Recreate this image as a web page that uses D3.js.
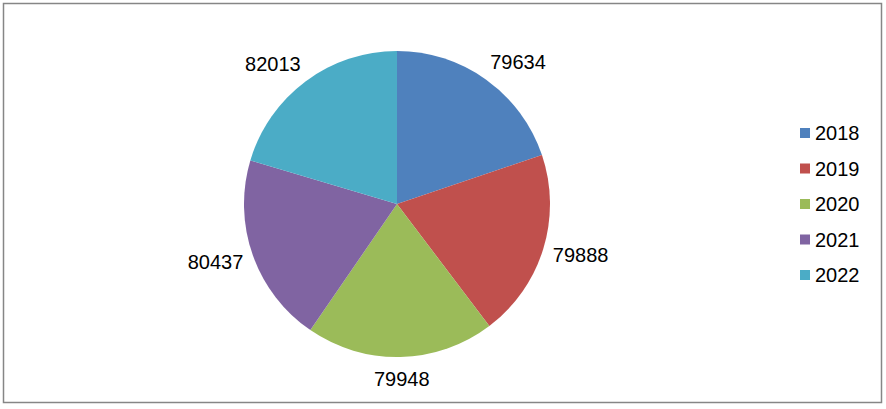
<!DOCTYPE html>
<html>
<head>
<meta charset="utf-8">
<script src="https://cdn.jsdelivr.net/npm/d3@7"></script>
<style>
  body { margin: 0; background: #fff; }
  svg { display: block; font-family: "Liberation Sans", Arial, sans-serif; }
</style>
</head>
<body>
<svg id="chart" width="886" height="409"></svg>
<script>
// DATA
var years = ["2018", "2019", "2020", "2021", "2022"];
var values = [79634, 79888, 79948, 80437, 82013];
var colors = ["#4F81BD", "#C0504D", "#9BBB59", "#8064A2", "#4BACC6"];

var width = 886,
    height = 409,
    cx = 397,
    cy = 204,
    radius = 153;

var svg = d3.select("#chart");

// chart border
svg.append("rect")
    .attr("x", 3.5)
    .attr("y", 3.5)
    .attr("width", 878)
    .attr("height", 399)
    .attr("fill", "#fff")
    .attr("stroke", "#868686")
    .attr("stroke-width", 1.5);

var color = d3.scaleOrdinal(years, colors);

var pie = d3.pie()
    .sort(null)
    .value(function(d) { return d.value; });

var arc = d3.arc()
    .innerRadius(0)
    .outerRadius(radius);

var rows = years.map(function(y, i) { return { year: y, value: values[i] }; });
var arcs = pie(rows);

var g = svg.append("g")
    .attr("transform", "translate(" + cx + "," + cy + ")");

g.selectAll("path")
    .data(arcs)
    .enter().append("path")
    .attr("d", arc)
    .attr("fill", function(d) { return color(d.data.year); });

// labels outside the pie edge
var labelR = radius + 10;
g.selectAll("text.lbl")
    .data(arcs)
    .enter().append("text")
    .attr("class", "lbl")
    .attr("font-size", 20)
    .attr("fill", "#000")
    .attr("text-anchor", "middle")
    .text(function(d) { return d.data.value; })
    .each(function(d) {
        var a = (d.startAngle + d.endAngle) / 2;
        var w = this.getComputedTextLength(),
            h = 24;
        var s = Math.max(-1, Math.min(1, Math.sin(a) * 1.6));
        var x = Math.sin(a) * labelR + s * w / 2;
        var y = -Math.cos(a) * labelR - Math.cos(a) * h / 2;
        d3.select(this).attr("x", x).attr("y", y + 7);
    });

// legend
var ly = d3.scalePoint()
    .domain(years)
    .range([133, 275]);

var legend = svg.append("g");

var item = legend.selectAll("g")
    .data(years)
    .enter().append("g")
    .attr("transform", function(d) { return "translate(800," + ly(d) + ")"; });

item.append("rect")
    .attr("x", 0)
    .attr("y", -5)
    .attr("width", 10)
    .attr("height", 10)
    .attr("fill", function(d) { return color(d); });

item.append("text")
    .attr("x", 15)
    .attr("y", 7)
    .attr("font-size", 20)
    .attr("fill", "#000")
    .text(function(d) { return d; });
</script>
</body>
</html>
